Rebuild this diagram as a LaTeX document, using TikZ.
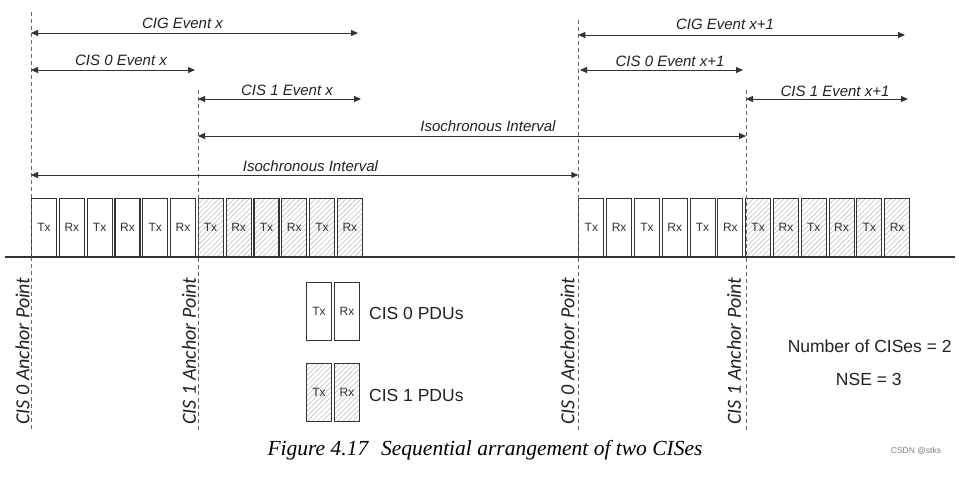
\documentclass[tikz,border=0pt]{standalone}
\usepackage{fontspec}
\setmainfont{Liberation Sans}
\newfontfamily\calib{Carlito}
\newfontfamily\capfont{Liberation Serif}
\usetikzlibrary{arrows.meta,patterns.meta}
\definecolor{ink}{HTML}{333333}
\definecolor{txt}{HTML}{222222}
\tikzset{
  pdu/.style={draw=ink, line width=1.1pt, minimum width=25pt, minimum height=58pt,
    inner sep=0pt, anchor=south west, text=ink, font=\fontsize{12}{12}\selectfont},
  pduh/.style={pdu, pattern={Lines[angle=45,distance=3.6pt,line width=0.5pt]}, pattern color=gray!55},
  anchorline/.style={draw=gray!80!black, dashed, dash pattern=on 4pt off 3pt, line width=0.7pt},
  dim/.style={{Triangle[length=7pt,width=6pt]}-{Triangle[length=7pt,width=6pt]}, draw=ink, line width=0.9pt},
  dimlab/.style={text=txt, font=\fontsize{15}{15}\selectfont\itshape, inner sep=0pt},
  anchlab/.style={rotate=90, text=txt, font=\calib\fontsize{20}{20}\selectfont\itshape, inner sep=0pt},
  legtext/.style={text=txt, font=\fontsize{17.5}{17.5}\selectfont, inner sep=0pt},
  baseline/.style={draw=ink, line width=1.1pt}
}
\begin{document}
\begin{tikzpicture}[x=1pt,y=-1pt]
\useasboundingbox[fill=white] (0,0) rectangle (959,489);

% baseline
\coordinate (bl) at (5,257);
\coordinate (br) at (955,257);
\draw[baseline] (bl) -- (br);

% PDU boxes, group 1
\foreach \i/\t in {0/Tx,1/Rx,2/Tx,3/Rx,4/Tx,5/Rx}{
  \node[pdu] (ga\i) at ({31+\i*27.8},257) {\t};
}
\foreach \i/\t in {6/Tx,7/Rx,8/Tx,9/Rx,10/Tx,11/Rx}{
  \node[pduh] (ga\i) at ({31+\i*27.8},257) {\t};
}
% PDU boxes, group 2
\foreach \i/\t in {0/Tx,1/Rx,2/Tx,3/Rx,4/Tx,5/Rx}{
  \node[pdu] (gb\i) at ({578.3+\i*27.8},257) {\t};
}
\foreach \i/\t in {6/Tx,7/Rx,8/Tx,9/Rx,10/Tx,11/Rx}{
  \node[pduh] (gb\i) at ({578.3+\i*27.8},257) {\t};
}

% anchor lines
\coordinate (a0t) at (31,12);    \coordinate (a0b) at (31,432);
\coordinate (a1t) at (198,90);   \coordinate (a1b) at (198,432);
\coordinate (a2t) at (578.3,20); \coordinate (a2b) at (578.3,432);
\coordinate (a3t) at (746,90);   \coordinate (a3b) at (746,432);
\draw[anchorline] (a0t) -- (a0b);
\draw[anchorline] (a1t) -- (a1b);
\draw[anchorline] (a2t) -- (a2b);
\draw[anchorline] (a3t) -- (a3b);

% anchor labels
\node[anchlab] (l0) at (22.5,351) {CIS 0 Anchor Point};
\node[anchlab] (l1) at (189,351) {CIS 1 Anchor Point};
\node[anchlab] (l2) at (567.5,351) {CIS 0 Anchor Point};
\node[anchlab] (l3) at (734,351) {CIS 1 Anchor Point};

% dimension arrows, event x
\coordinate (cigxs) at (31,33);  \coordinate (cigxe) at (358,33);
\draw[dim] (cigxs) -- (cigxe);
\node[dimlab] (cigx) at (182.5,23) {CIG Event x};
\coordinate (c0xs) at (31,70);  \coordinate (c0xe) at (195,70);
\draw[dim] (c0xs) -- (c0xe);
\node[dimlab] (c0x) at (121,60) {CIS 0 Event x};
\coordinate (c1xs) at (198,99);  \coordinate (c1xe) at (361,99);
\draw[dim] (c1xs) -- (c1xe);
\node[dimlab] (c1x) at (287,90) {CIS 1 Event x};
\coordinate (iso1s) at (198,136);  \coordinate (iso1e) at (746,136);
\draw[dim] (iso1s) -- (iso1e);
\node[dimlab] (iso1) at (488,126) {Isochronous Interval};
\coordinate (iso0s) at (31,175);  \coordinate (iso0e) at (578.3,175);
\draw[dim] (iso0s) -- (iso0e);
\node[dimlab] (iso0) at (310.5,166) {Isochronous Interval};

% event x+1
\coordinate (cigys) at (578.3,35);  \coordinate (cigye) at (905,35);
\draw[dim] (cigys) -- (cigye);
\node[dimlab] (cigy) at (725,24) {CIG Event x+1};
\coordinate (c0ys) at (580,70);  \coordinate (c0ye) at (743,70);
\draw[dim] (c0ys) -- (c0ye);
\node[dimlab] (c0y) at (670,61) {CIS 0 Event x+1};
\coordinate (c1ys) at (746,99);  \coordinate (c1ye) at (908,99);
\draw[dim] (c1ys) -- (c1ye);
\node[dimlab] (c1y) at (835,91) {CIS 1 Event x+1};

% legend
\node[pdu] (lg0t) at (306,340.7) {Tx};
\node[pdu] (lg0r) at (334,340.7) {Rx};
\node[pduh] (lg1t) at (306,422.3) {Tx};
\node[pduh] (lg1r) at (334,422.3) {Rx};
\node[legtext, anchor=west] (lg0) at (369,313) {CIS 0 PDUs};
\node[legtext, anchor=west] (lg1) at (369,395) {CIS 1 PDUs};

\node[legtext] (ncis) at (869.7,346) {Number of CISes = 2};
\node[legtext] (nse) at (868.8,379) {NSE = 3};

% caption
\node[text=black, font=\capfont\fontsize{21.5}{21.5}\selectfont\itshape, inner sep=0pt] (cap) at (485,450)
  {Figure 4.17\hspace{0.6em}Sequential arrangement of two CISes};
\node[text=gray, font=\fontsize{8.5}{8.5}\selectfont, inner sep=0pt] (wm) at (916,451) {CSDN @stks};
\end{tikzpicture}
\end{document}
